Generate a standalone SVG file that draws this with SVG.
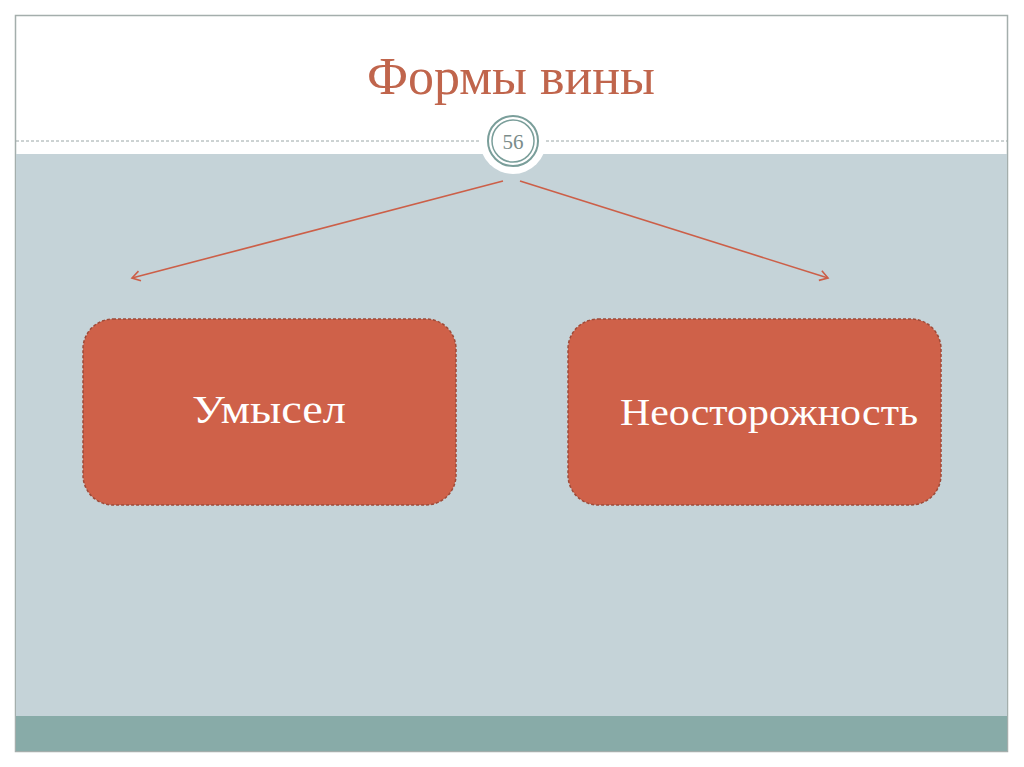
<svg xmlns="http://www.w3.org/2000/svg" width="1024" height="767" viewBox="0 0 1024 767">
<defs>
<style>
.box{fill:#cf6149;stroke:#9e4a38;stroke-width:1.5;stroke-dasharray:3 2}
.lbl{font-family:"Liberation Serif","DejaVu Serif",serif;fill:#ffffff}
.conn{stroke:#cc5f48;stroke-width:1.6;fill:none}
</style>
<marker id="ah" markerWidth="12" markerHeight="12" refX="10" refY="6" orient="auto" markerUnits="userSpaceOnUse">
<path d="M2,1 L10,6 L2,11" fill="none" stroke="#cc5f48" stroke-width="1.6"/>
</marker>
</defs>
<rect x="0" y="0" width="1024" height="767" fill="#ffffff"/>
<g id="frame">
<rect x="15.5" y="15.5" width="992" height="736" fill="#ffffff" stroke="#a4aeac" stroke-width="1.5"/>
<rect x="16" y="154" width="991" height="562" fill="#c5d3d8"/>
<rect x="16" y="716" width="991" height="35" fill="#88aba8"/>
<line x1="16" y1="141" x2="1007" y2="141" stroke="#9aa6a6" stroke-width="1" stroke-dasharray="3 2"/>
</g>
<g id="title">
<text x="367" y="94" textLength="288" lengthAdjust="spacingAndGlyphs" font-family="Liberation Serif, DejaVu Serif, serif" font-size="52" fill="#c0654c">Формы вины</text>
</g>
<g id="page-badge">
<circle cx="513" cy="141" r="33" fill="#ffffff"/>
<circle cx="513" cy="141" r="25" fill="#ffffff" stroke="#7a9e9a" stroke-width="2"/>
<circle cx="513" cy="141" r="21" fill="none" stroke="#7a9e9a" stroke-width="1.5"/>
<text x="513" y="149" text-anchor="middle" font-family="Liberation Serif, DejaVu Serif, serif" font-size="21" fill="#7a8c8a">56</text>
</g>
<g id="connectors">
<line class="conn" x1="503" y1="181" x2="132" y2="278" marker-end="url(#ah)"/>
<line class="conn" x1="520" y1="181" x2="828" y2="278" marker-end="url(#ah)"/>
</g>
<g id="node-umysel">
<rect class="box" x="83" y="319" width="373" height="186" rx="30"/>
<text class="lbl" x="192" y="423" textLength="154" lengthAdjust="spacingAndGlyphs" font-size="41">Умысел</text>
</g>
<g id="node-neostorozhnost">
<rect class="box" x="568" y="319" width="373" height="186" rx="30"/>
<text class="lbl" x="620" y="425" textLength="298" lengthAdjust="spacingAndGlyphs" font-size="38">Неосторожность</text>
</g>
</svg>
